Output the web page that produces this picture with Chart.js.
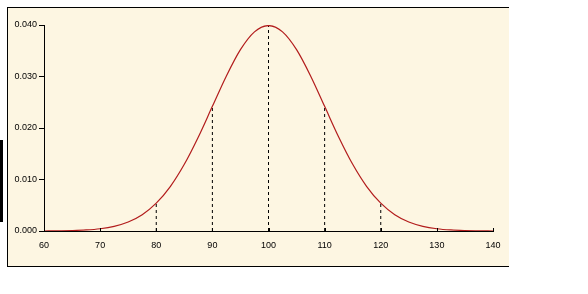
<!DOCTYPE html>
<html>
<head>
<meta charset="utf-8">
<script src="https://cdn.jsdelivr.net/npm/chart.js@4.4.0/dist/chart.umd.min.js"></script>
<style>
  html, body { margin: 0; padding: 0; background: #fff; }
  #wrap { position: relative; width: 588px; height: 294px; overflow: hidden; }
  #frame {
    position: absolute; left: 7px; top: 7px; width: 501px; height: 258px;
    background: #fdf6e2;
    border-top: 1px solid #000; border-left: 1px solid #000; border-bottom: 1px solid #000;
  }
  #bar { position: absolute; left: 0; top: 140px; width: 3px; height: 82px; background: #000; }
  #chart { position: absolute; left: 0; top: 0; }
</style>
</head>
<body>
<div id="wrap">
  <div id="frame"></div>
  <div id="bar"></div>
  <canvas id="chart" width="588" height="294"></canvas>
</div>
<script>
// values (step 2.5)
const xValues = [60, 62.5, 65, 67.5, 70, 72.5, 75, 77.5, 80, 82.5, 85, 87.5, 90, 92.5, 95, 97.5,
                 100, 102.5, 105, 107.5, 110, 112.5, 115, 117.5, 120, 122.5, 125, 127.5, 130, 132.5, 135, 137.5, 140];
const density = [0.00000, 0.00004, 0.00009, 0.00020, 0.00044, 0.00091, 0.00175, 0.00317, 0.00540,
                 0.00863, 0.01295, 0.01826, 0.02420, 0.03011, 0.03521, 0.03867,
                 0.03989, 0.03867, 0.03521, 0.03011, 0.02420, 0.01826, 0.01295, 0.00863,
                 0.00540, 0.00317, 0.00175, 0.00091, 0.00044, 0.00020, 0.00009, 0.00004, 0.00000];

// dashed drop lines
const dropX = [80, 90, 100, 110, 120];
const dropY = [0.0054, 0.0242, 0.0399, 0.0242, 0.0054];

const xTicks = [60, 70, 80, 90, 100, 110, 120, 130, 140];
const yTicks = [0.000, 0.010, 0.020, 0.030, 0.040];

const curve = xValues.map((x, i) => ({ x: x, y: density[i] }));

const datasets = [{
    data: curve,
    borderColor: 'rgb(178,28,28)',
    borderWidth: 1.2,
    pointRadius: 0,
    cubicInterpolationMode: 'monotone',
    fill: false
}];

dropX.forEach((x, i) => {
    datasets.push({
        data: [{ x: x, y: 0 }, { x: x, y: dropY[i] }],
        borderColor: '#000',
        borderWidth: 1,
        borderDash: [3, 3],
        pointRadius: 0,
        fill: false
    });
});

// small tick marks on the x axis pointing up into the plot
const innerTicks = {
    id: 'innerTicks',
    afterDatasetsDraw(chart) {
        const ctx = chart.ctx;
        const xs = chart.scales.x;
        const bottom = chart.chartArea.bottom;
        ctx.save();
        ctx.strokeStyle = '#000';
        ctx.lineWidth = 1;
        xTicks.forEach(v => {
            const px = Math.round(xs.getPixelForValue(v)) + 0.5;
            ctx.beginPath();
            ctx.moveTo(px, bottom);
            ctx.lineTo(px, bottom - 3);
            ctx.stroke();
        });
        ctx.restore();
    }
};

Chart.defaults.font.family = '"Liberation Sans", Arial, sans-serif';
Chart.defaults.font.size = 9;
Chart.defaults.color = '#000';

new Chart(document.getElementById('chart').getContext('2d'), {
    type: 'line',
    data: { datasets: datasets },
    plugins: [innerTicks],
    options: {
        responsive: false,
        animation: false,
        layout: { padding: { left: 0, top: 25, right: 95, bottom: 45 } },
        plugins: { legend: { display: false }, tooltip: { enabled: false } },
        scales: {
            x: {
                type: 'linear',
                min: 60, max: 140,
                afterBuildTicks: s => { s.ticks = xTicks.map(v => ({ value: v })); },
                afterFit: s => { s.height = 18; },
                grid: { drawOnChartArea: false, drawTicks: false },
                border: { color: '#000', width: 1 },
                ticks: { padding: 9, maxRotation: 0, callback: v => String(v) }
            },
            y: {
                min: 0, max: 0.04,
                afterBuildTicks: s => { s.ticks = yTicks.map(v => ({ value: v })); },
                afterFit: s => { s.width = 44; },
                grid: { drawOnChartArea: false, tickLength: 5, color: '#000' },
                border: { color: '#000', width: 1 },
                ticks: { padding: 2, callback: v => Number(v).toFixed(3) }
            }
        }
    }
});
</script>
</body>
</html>
